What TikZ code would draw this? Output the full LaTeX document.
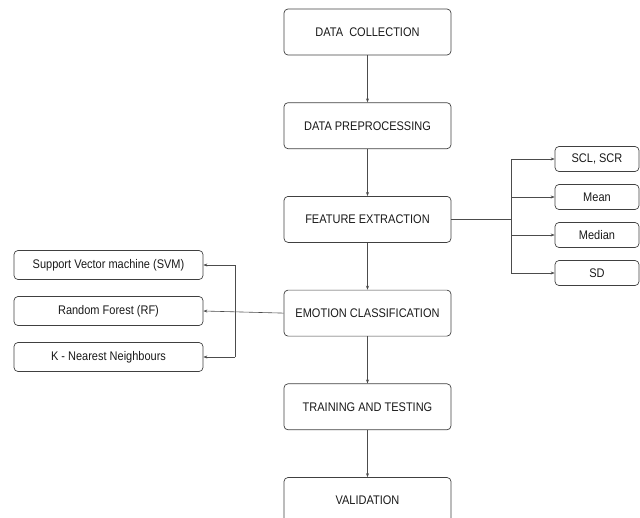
\documentclass[tikz,border=0pt]{standalone}
\usepackage{fontspec}
\setmainfont{Liberation Sans}[FakeStretch=0.88]
\usepackage{tikz}
\usetikzlibrary{positioning, arrows.meta}
\tikzset{
  box/.style = {rectangle, draw=black!75, rounded corners=4pt, line width=0.7pt, align=center, text=black!90, font=\fontsize{12.5}{14}\selectfont, inner sep=2pt},
  mainbox/.style = {box, minimum width=167pt, minimum height=46pt},
  featbox/.style = {box, minimum width=84pt, minimum height=25pt},
  clfbox/.style = {box, minimum width=189pt, minimum height=29pt},
  flow/.style = {draw=black!70, line width=0.6pt, -{Stealth[length=4pt, width=3pt]}},
  link/.style = {draw=black!70, line width=0.6pt}
}

\begin{document}
\begin{tikzpicture}[x=1pt, y=-1pt, node distance=47pt]
    \useasboundingbox (0,0) rectangle (640,517);
    % main chain
    \node[mainbox] (dc) at (367.5,32) {DATA\ \ COLLECTION};
    \node[mainbox, below=of dc] (dp) {DATA PREPROCESSING};
    \node[mainbox, below=of dp] (fe) {FEATURE EXTRACTION};
    \node[mainbox, below=of fe] (ec) {EMOTION CLASSIFICATION};
    \node[mainbox, below=of ec] (tt) {TRAINING AND TESTING};
    \node[mainbox, below=of tt] (va) {VALIDATION};
    \foreach \a/\b in {dc/dp, dp/fe, fe/ec, ec/tt, tt/va}
        \draw[flow] (\a) -- (\b);
    % features
    \node[featbox] (scl) at (597,159) {SCL, SCR};
    \node[featbox] (mean) at (597,197) {Mean};
    \node[featbox] (med) at (597,235) {Median};
    \node[featbox] (sd) at (597,273) {SD};
    \coordinate (fj) at ([xshift=60pt]fe.east);
    \draw[link] (fe.east) -- (fj);
    \draw[link] (fj |- scl.west) -- (fj |- sd.west);
    \foreach \n in {scl, mean, med, sd}
        \draw[flow] (fj |- \n.west) -- (\n.west);
    % classifiers
    \node[clfbox] (svm) at (108.5,265) {Support Vector machine (SVM)};
    \node[clfbox] (rf) at (108.5,311) {Random Forest (RF)};
    \node[clfbox] (knn) at (108.5,357) {K - Nearest Neighbours};
    \coordinate (cj) at ([xshift=32pt]svm.east);
    \draw[flow] (ec.west) -- (rf.east);
    \draw[link] (cj) -- (cj |- knn.east);
    \draw[flow] (cj) -- (svm.east);
    \draw[flow] (cj |- knn.east) -- (knn.east);
\end{tikzpicture}
\end{document}
